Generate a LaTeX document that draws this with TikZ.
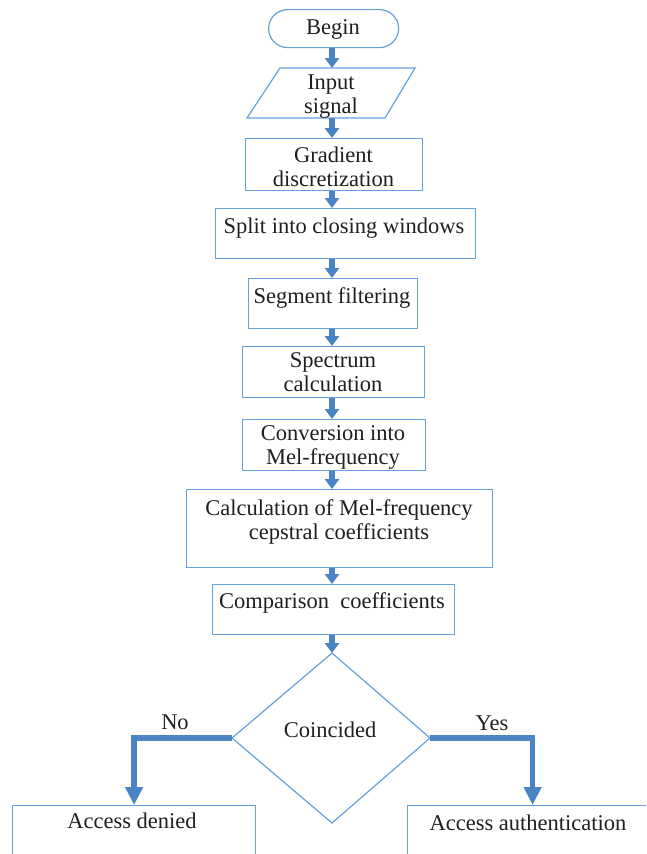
\documentclass[tikz,border=0pt]{standalone}
\usepackage{fontspec}
\setmainfont{Liberation Serif}
\usetikzlibrary{arrows.meta,calc}
\definecolor{boxblue}{RGB}{100,160,218}
\definecolor{arrblue}{RGB}{74,132,196}
\newcommand{\twolines}[2]{\vtop{\halign{\hfil##\hfil\cr#1\cr#2\cr}}}
\begin{document}
\begin{tikzpicture}[x=1pt,y=-1pt,
  box/.style={draw=boxblue, line width=1.2pt, rectangle, inner sep=0pt, anchor=north west},
  ghost/.style={rectangle, inner sep=0pt, anchor=north west},
  txt/.style={font=\fontsize{22.5}{24}\selectfont, inner sep=0pt, anchor=base, text=black!88},
  flow/.style={draw=arrblue, line width=6pt, -{Triangle[width=14pt,length=10pt]}},
  bigflow/.style={draw=arrblue, line width=5.5pt, -{Triangle[width=17pt,length=18pt]}},
]
\useasboundingbox (0,0) rectangle (646,854);
\begin{scope}
\clip (0,0) rectangle (646,854);
\coordinate (sp) at (332,0);
% boxes
\node[box, rounded corners=19pt, minimum width=130pt, minimum height=38pt] (begin) at (268,9) {};
\node[ghost, minimum width=168pt, minimum height=50pt] (input) at (247,68) {};
\coordinate (inTL) at (280,68);
\coordinate (inTR) at (415,68);
\coordinate (inBR) at (385,118);
\coordinate (inBL) at (247,118);
\draw[draw=boxblue, line width=1.2pt] (inTL) -- (inTR) -- (inBR) -- (inBL) -- cycle;
\node[box, minimum width=177pt, minimum height=52pt] (grad) at (245,138) {};
\node[box, minimum width=260pt, minimum height=50pt] (split) at (215,208) {};
\node[box, minimum width=169pt, minimum height=50pt] (seg) at (248,278) {};
\node[box, minimum width=182pt, minimum height=51pt] (spec) at (242,346) {};
\node[box, minimum width=183pt, minimum height=51pt] (conv) at (242,419) {};
\node[box, minimum width=306pt, minimum height=78pt] (calc) at (186,489) {};
\node[box, minimum width=242pt, minimum height=50pt] (comp) at (212,584) {};
\coordinate (dt) at (332,653);
\coordinate (dr) at (430,738);
\coordinate (db) at (332,823);
\coordinate (dl) at (232,738);
\draw[draw=boxblue, line width=1.2pt] (dt) -- (dr) -- (db) -- (dl) -- cycle;
\node[box, minimum width=243pt, minimum height=70pt] (denied) at (12,805) {};
\node[box, minimum width=250pt, minimum height=70pt] (auth) at (407,805) {};
% texts
\node[txt] (tbegin) at (333,34) {Begin};
\node[txt] (tinput) at (331,89) {\twolines{Input}{signal}};
\node[txt] (tgrad) at (333.5,162) {\twolines{Gradient}{discretization}};
\node[txt] (tsplit) at (344,233) {Split into closing windows};
\node[txt] (tseg) at (332,303) {Segment filtering};
\node[txt] (tspec) at (333,367) {\twolines{Spectrum}{calculation}};
\node[txt] (tconv) at (333,440) {\twolines{Conversion into}{Mel-frequency}};
\node[txt] (tcalc) at (339,515) {\twolines{Calculation of Mel-frequency}{cepstral coefficients}};
\node[txt] (tcomp) at (332,608) {Comparison\ \ coefficients};
\node[txt] (tcoin) at (330,737) {Coincided};
\node[txt] (tno) at (175,729) {No};
\node[txt] (tyes) at (492,730) {Yes};
\node[txt] (tden) at (132,828) {Access denied};
\node[txt] (tauth) at (528,830) {Access authentication};
% connectors
\draw[flow] (begin.south -| sp) -- (inTL -| sp);
\draw[flow] (inBL -| sp) -- (grad.north -| sp);
\draw[flow] (grad.south -| sp) -- (split.north -| sp);
\draw[flow] (split.south -| sp) -- (seg.north -| sp);
\draw[flow] (seg.south -| sp) -- (spec.north -| sp);
\draw[flow] (spec.south -| sp) -- (conv.north -| sp);
\draw[flow] (conv.south -| sp) -- (calc.north -| sp);
\draw[flow] (calc.south -| sp) -- (comp.north -| sp);
\draw[flow] (comp.south -| sp) -- (dt);
\draw[bigflow] (dl) -| (denied.north);
\draw[bigflow] (dr) -| (auth.north);
\end{scope}
\end{tikzpicture}
\end{document}
